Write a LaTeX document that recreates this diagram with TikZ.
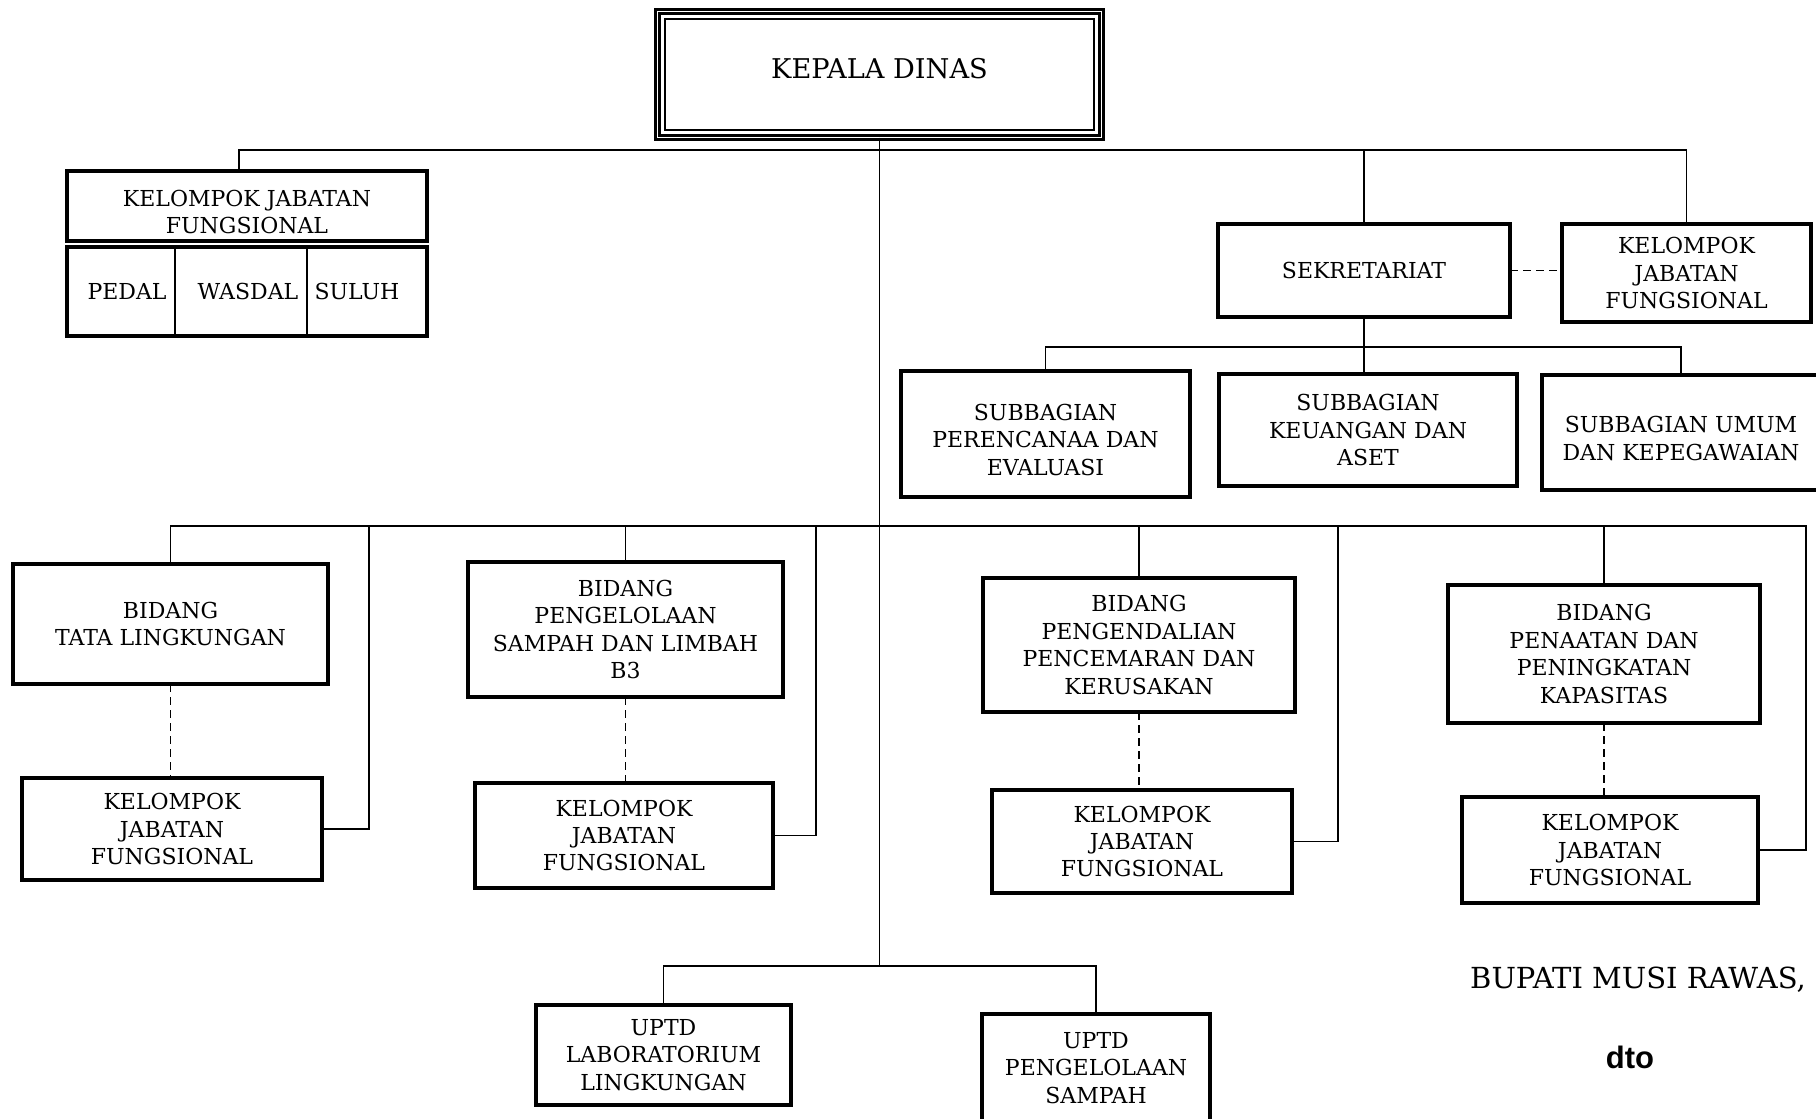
\documentclass[tikz,border=0pt]{standalone}
\usepackage{fontspec}
\setmainfont{DejaVu Serif}
\newfontfamily\signfont{Liberation Sans}
\usetikzlibrary{calc}
\newcommand{\dropline}{\rule{0pt}{14pt}}
\tikzset{
  unit/.style={draw, line width=2pt, align=center, inner sep=0pt, outer sep=0pt},
  cell/.style={align=center, inner sep=0pt, outer sep=0pt},
  dims/.style 2 args={minimum width=#1*0.5pt, minimum height=#2*0.5pt},
  link/.style={line width=0.9pt},
  staff/.style={link, dash pattern=on 4pt off 2.5pt}
}
\begin{document}
\begin{tikzpicture}
[x=0.5pt, y=-0.5pt,
 font=\fontsize{11}{13.7}\selectfont]
\useasboundingbox (0,0) rectangle (1816,1119);
% head
\node[unit, line width=1.5pt, double, double distance=0.5pt, dims={444}{126},
      font=\fontsize{13.6}{15}\selectfont] (kepala) at (879.5,74.5) {\raisebox{6pt}{KEPALA DINAS}};
\draw[line width=1pt] ($(kepala.north west)+(7.5,7.5)$) rectangle ($(kepala.south east)+(-7.5,-7.5)$);
% fungsional group, top left
\node[unit, dims={360}{70}] (hdr) at (247,206) {\dropline KELOMPOK JABATAN\\FUNGSIONAL};
\coordinate (low-nw) at (67,247);
\coordinate (low-se) at (427,336);
\draw[line width=2pt] (low-nw) rectangle (low-se);
\draw[link] (175,247) -- (175,336) (307,247) -- (307,336);
\node[cell] (pedal) at (127,291.5) {PEDAL};
\node[cell] (wasdal) at (248,291.5) {WASDAL};
\node[cell] (suluh) at (357,291.5) {SULUH};
% sekretariat
\node[unit, dims={292}{93}] (sekr) at (1364,270.5) {SEKRETARIAT};
\node[unit, dims={249}{98}] (kjfs) at (1686.5,273) {KELOMPOK\\JABATAN\\FUNGSIONAL};
\node[unit, dims={289}{126}] (sub1) at (1045.5,434) {\dropline SUBBAGIAN\\PERENCANAA DAN\\EVALUASI};
\node[unit, dims={298}{112}] (sub2) at (1368,430) {SUBBAGIAN\\KEUANGAN DAN\\ASET};
\node[unit, dims={278}{115}] (sub3) at (1681,432.5) {\dropline SUBBAGIAN UMUM\\DAN KEPEGAWAIAN};
% bidang
\node[unit, dims={315}{120}] (bid1) at (170.5,624) {BIDANG\\TATA LINGKUNGAN};
\node[unit, dims={315}{135}] (bid2) at (625.5,629.5) {BIDANG\\PENGELOLAAN\\SAMPAH DAN LIMBAH\\B3};
\node[unit, dims={312}{134}] (bid3) at (1139,645) {BIDANG\\PENGENDALIAN\\PENCEMARAN DAN\\KERUSAKAN};
\node[unit, dims={312}{138}] (bid4) at (1604,654) {BIDANG\\PENAATAN DAN\\PENINGKATAN\\KAPASITAS};
\node[unit, dims={300}{102}] (kjf1) at (172,829) {KELOMPOK\\JABATAN\\FUNGSIONAL};
\node[unit, dims={298}{105}] (kjf2) at (624,835.5) {KELOMPOK\\JABATAN\\FUNGSIONAL};
\node[unit, dims={300}{103}] (kjf3) at (1142,841.5) {KELOMPOK\\JABATAN\\FUNGSIONAL};
\node[unit, dims={296}{106}] (kjf4) at (1610,850) {KELOMPOK\\JABATAN\\FUNGSIONAL};
% uptd
\node[unit, dims={255}{100}] (uptd1) at (663.5,1055) {UPTD\\LABORATORIUM\\LINGKUNGAN};
\node[unit, dims={228}{108}] (uptd2) at (1096,1068) {UPTD\\PENGELOLAAN\\SAMPAH};
% signature
\node[font=\fontsize{14.5}{16}\selectfont] (sign) at (1638,980) {BUPATI MUSI RAWAS,};
\node[font=\signfont\bfseries\fontsize{15.5}{17}\selectfont] (dto) at (1630,1057) {dto};
% lines
\coordinate (tbus) at (0,150);
\coordinate (sbus) at (0,347);
\coordinate (bbus) at (0,526);
\coordinate (ubus) at (0,966);
\coordinate (e1) at (369,0);
\coordinate (e2) at (816,0);
\coordinate (e3) at (1338,0);
\coordinate (e4) at (1806,0);
\draw[link] (kepala.south) -- (kepala.south |- ubus);
\draw[link] ($(hdr.north)+(-8,0)$) |- (tbus -| kepala.south) -| (kjfs.north);
\draw[link] (sekr.north) -- (sekr.north |- tbus);
\draw[staff] (sekr.east) -- (sekr.east -| kjfs.west);
\draw[link] (sekr.south) -- (sekr.south |- sub2.north);
\draw[link] (sub1.north) |- (sbus -| sekr.south) -| (sub3.north);
\draw[link] (bid1.north) |- (bbus -| e4) -- (e4 |- kjf4.east) -- (kjf4.east);
\foreach \i in {1,2,3}
  \draw[link] (e\i |- bbus) |- (kjf\i.east);
\foreach \i in {2,3,4}
  \draw[link] (bid\i.north) -- (bid\i.north |- bbus);
\foreach \i in {1,...,4}
  \draw[staff] (bid\i.south) -- (bid\i.south |- kjf\i.north);
\draw[link] (uptd1.north) |- (ubus -| kepala.south) -| (uptd2.north);
\end{tikzpicture}
\end{document}
